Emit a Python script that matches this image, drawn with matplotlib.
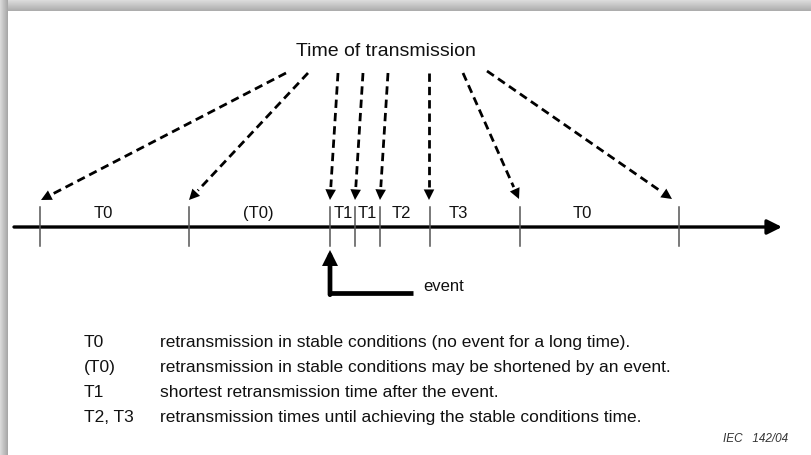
import numpy as np
import matplotlib
matplotlib.use("Agg")
import matplotlib.pyplot as plt

plt.rcParams['font.family'] = ['Liberation Sans', 'DejaVu Sans']

# timeline ticks and segment labels (pixel coords, y down)
tick_x = [40, 189, 330, 355, 380, 430, 520, 679]
seg_labels = ['T0', '(T0)', 'T1', 'T1', 'T2', 'T3', 'T0']
seg_label_x = [103, 258, 343, 367, 401, 458, 582]

# dashed "time of transmission" arrows: start and tip
arrow_start = [(286, 74), (308, 74), (338, 74), (363, 74), (388, 74), (429, 74), (463, 74), (487, 72)]
arrow_tip = [(41, 201), (189, 201), (330, 201), (355, 201), (380, 201), (429, 201), (519, 200), (672, 200)]

# legend
legend_keys = ['T0', '(T0)', 'T1', 'T2, T3']
legend_text = [
    'retransmission in stable conditions (no event for a long time).',
    'retransmission in stable conditions may be shortened by an event.',
    'shortest retransmission time after the event.',
    'retransmission times until achieving the stable conditions time.',
]

W, H = 811, 456
fig = plt.figure(figsize=(W / 100, H / 100), dpi=100)
ax = fig.add_axes([0, 0, 1, 1])

# shadow border (top and left)
top = np.linspace(0.88, 0.68, 12)[:, None] * np.ones((1, W))
ax.imshow(top, cmap='gray', vmin=0, vmax=1, extent=(0, W, 12, 0), aspect='auto', zorder=1)
left = np.linspace(0.85, 0.66, 8)[None, :] * np.ones((H, 1))
ax.imshow(left, cmap='gray', vmin=0, vmax=1, extent=(0, 8, H, 0), aspect='auto', zorder=2)
ax.set_xlim(0, W)
ax.set_ylim(H, 0)
ax.axis('off')

ax.text(386, 56, 'Time of transmission', ha='center', va='baseline', fontsize=14, color='#111111')

# main time axis
y0 = 228
ax.annotate('', xy=(782, y0), xytext=(14, y0),
            arrowprops=dict(arrowstyle='-|>', lw=2.4, color='black', mutation_scale=22,
                            shrinkA=0, shrinkB=0))
for x in tick_x:
    ax.plot([x, x], [208, 247], color='#555555', lw=1.1, zorder=3)
for x, lab in zip(seg_label_x, seg_labels):
    ax.text(x, 218, lab, ha='center', va='baseline', fontsize=12, color='#111111')

# dashed arrows
head = 13
for (x1, y1), (x2, y2) in zip(arrow_start, arrow_tip):
    d = np.array([x2 - x1, y2 - y1], dtype=float)
    u = d / np.hypot(*d)
    bx, by = x2 - u[0] * head, y2 - u[1] * head
    ax.plot([x1, bx], [y1, by], color='black', lw=2.0, linestyle=(0, (3, 1.8)))
    ax.annotate('', xy=(x2, y2), xytext=(bx, by),
                arrowprops=dict(arrowstyle='-|>', lw=0, color='black', mutation_scale=19,
                                shrinkA=0, shrinkB=0))

# event arrow
ax.plot([413, 330], [294, 294], color='black', lw=3.4, solid_capstyle='butt')
ax.annotate('', xy=(330, 251), xytext=(330, 295.7),
            arrowprops=dict(arrowstyle='-|>', lw=3.4, color='black', mutation_scale=15,
                            shrinkA=0, shrinkB=0, joinstyle='miter'))
ax.text(423, 291, 'event', ha='left', va='baseline', fontsize=12, color='#111111')

# legend rows
for i, (k, t) in enumerate(zip(legend_keys, legend_text)):
    yb = 347 + 25 * i
    ax.text(84, yb, k, ha='left', va='baseline', fontsize=12.5, color='#111111')
    ax.text(160, yb, t, ha='left', va='baseline', fontsize=12.5, color='#111111')

ax.text(788, 442, 'IEC   142/04', ha='right', va='baseline', fontsize=8.5,
        style='italic', color='#333333')

fig.savefig('out.png', dpi=100)
